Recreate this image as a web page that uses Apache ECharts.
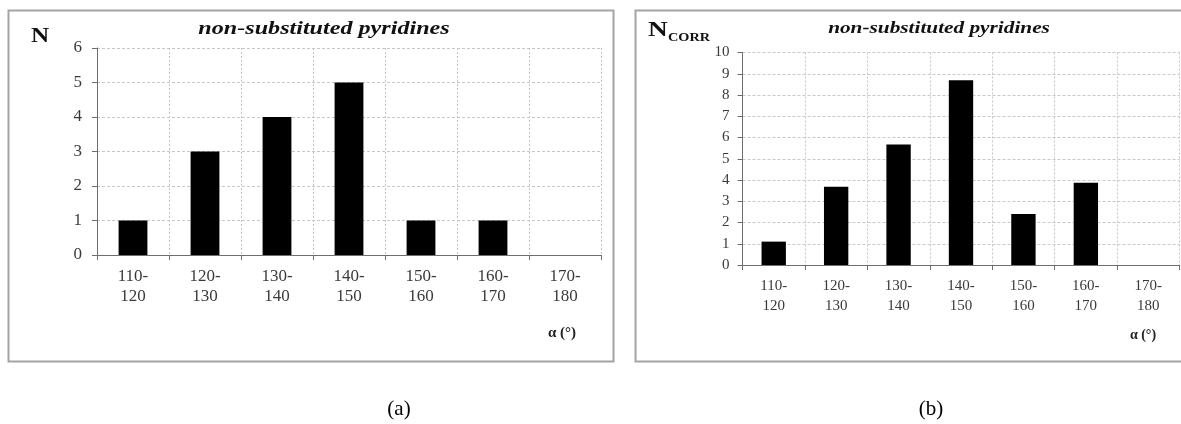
<!DOCTYPE html>
<html>
<head>
<meta charset="utf-8">
<script src="https://cdn.jsdelivr.net/npm/echarts@6/dist/echarts.min.js"></script>
<style>html,body{margin:0;padding:0;background:#fff}#c{width:1181px;height:424px}</style>
</head>
<body>
<div id="c"></div>
<script>
const categories = ['110-\n120','120-\n130','130-\n140','140-\n150','150-\n160','160-\n170','170-\n180'];
const countsN = [1, 3, 4, 5, 1, 1, 0];
const countsCorr = [1.1, 3.68, 5.67, 8.7, 2.4, 3.87, 0];
const yTicksA = [0, 6, 1];
const yTicksB = [0, 10, 1];
const titleText = 'non-substituted pyridines';

const serif = 'Liberation Serif';
const chart = echarts.init(document.getElementById('c'), null, {renderer: 'canvas'});

function xAxisCfg(gi, fs, lh, margin) {
  return {
    type: 'category', gridIndex: gi, data: categories, boundaryGap: true,
    axisLine: {lineStyle: {color: '#6e6e6e', width: 1}},
    axisTick: {show: true, length: 5, interval: 0, lineStyle: {color: '#6e6e6e'}},
    axisLabel: {interval: 0, fontFamily: serif, fontSize: fs, lineHeight: lh, color: '#3a3a3a', margin: margin},
    splitLine: {show: true, interval: 0, lineStyle: {color: '#c4c4c4', type: [2, 2], width: 1}}
  };
}
function yAxisCfg(gi, t, fs, margin) {
  return {
    type: 'value', gridIndex: gi, min: t[0], max: t[1], interval: t[2],
    axisLine: {show: true, lineStyle: {color: '#6e6e6e'}},
    axisTick: {show: true, length: 5, lineStyle: {color: '#6e6e6e'}},
    axisLabel: {fontFamily: serif, fontSize: fs, color: '#3a3a3a', margin: margin},
    splitLine: {show: true, lineStyle: {color: '#c8c8c8', type: [3, 2], width: 1}}
  };
}

chart.setOption({
  animation: false,
  backgroundColor: '#fff',
  grid: [
    {left: 97, top: 48, width: 504, height: 207},
    {left: 742.5, top: 52.5, width: 437, height: 212.5}
  ],
  xAxis: [xAxisCfg(0, 17, 20, 12), xAxisCfg(1, 15, 20, 11)],
  yAxis: [yAxisCfg(0, yTicksA, 17, 15), yAxisCfg(1, yTicksB, 15, 13)],
  series: [
    {type: 'bar', xAxisIndex: 0, yAxisIndex: 0, data: countsN, barWidth: '40%', itemStyle: {color: '#000'}},
    {type: 'bar', xAxisIndex: 1, yAxisIndex: 1, data: countsCorr, barWidth: '39%', itemStyle: {color: '#000'}}
  ],
  graphic: [
    {type: 'rect', shape: {x: 8.5, y: 10.5, width: 605, height: 351}, style: {fill: 'none', stroke: '#a4a4a4', lineWidth: 2}, z: 100},
    {type: 'rect', shape: {x: 635.5, y: 10.5, width: 560, height: 351}, style: {fill: 'none', stroke: '#a4a4a4', lineWidth: 2}, z: 100},
    {type: 'text', x: 324, y: 29, scaleX: 1.34, style: {text: titleText, font: 'italic bold 18px "Liberation Serif"', fill: '#111', textAlign: 'center', textVerticalAlign: 'middle'}},
    {type: 'text', x: 939, y: 29, scaleX: 1.33, style: {text: titleText, font: 'italic bold 16px "Liberation Serif"', fill: '#111', textAlign: 'center', textVerticalAlign: 'middle'}},
    {type: 'text', x: 31, y: 37, scaleX: 1.2, style: {text: 'N', font: 'bold 21px "Liberation Serif"', fill: '#111', textAlign: 'left', textVerticalAlign: 'middle'}},
    {type: 'text', x: 648, y: 31, scaleX: 1.3, style: {text: 'N', font: 'bold 21px "Liberation Serif"', fill: '#111', textAlign: 'left', textVerticalAlign: 'middle'}},
    {type: 'text', x: 668, y: 38, scaleX: 1.1, style: {text: 'CORR', font: 'bold 13px "Liberation Serif"', fill: '#111', textAlign: 'left', textVerticalAlign: 'middle'}},
    {type: 'text', x: 562, y: 333, style: {text: 'α (°)', font: 'bold 15px "Liberation Serif"', fill: '#222', textAlign: 'center', textVerticalAlign: 'middle'}},
    {type: 'text', x: 1143, y: 335, style: {text: 'α (°)', font: 'bold 14px "Liberation Serif"', fill: '#222', textAlign: 'center', textVerticalAlign: 'middle'}},
    {type: 'text', x: 399, y: 409, style: {text: '(a)', font: '21px "Liberation Serif"', fill: '#000', textAlign: 'center', textVerticalAlign: 'middle'}},
    {type: 'text', x: 931, y: 409, style: {text: '(b)', font: '21px "Liberation Serif"', fill: '#000', textAlign: 'center', textVerticalAlign: 'middle'}}
  ]
});
</script>
</body>
</html>
